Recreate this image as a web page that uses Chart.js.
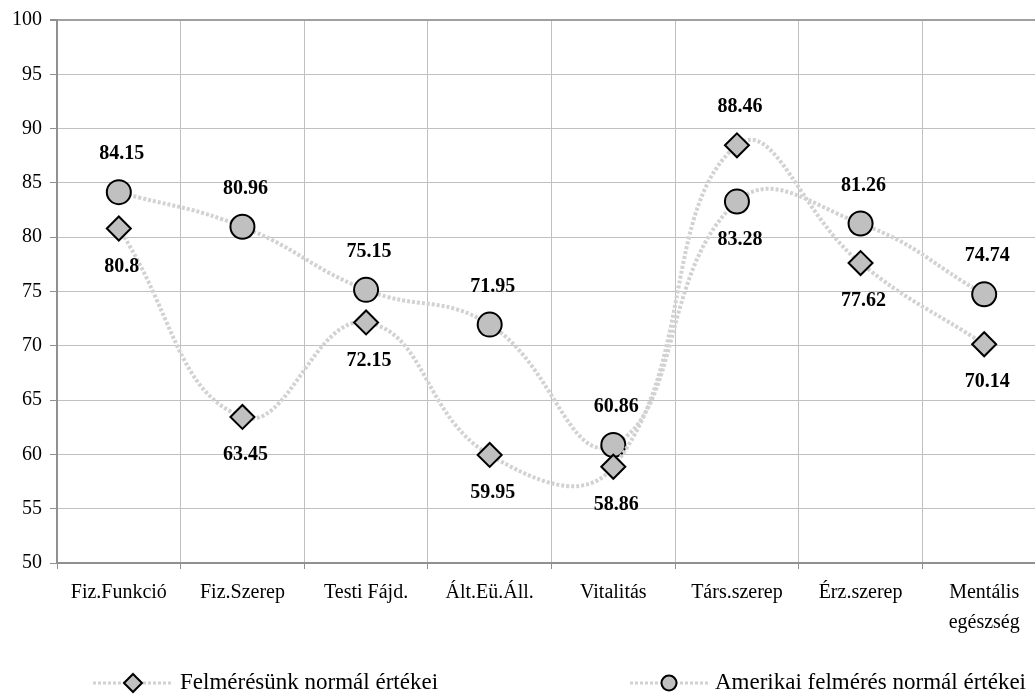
<!DOCTYPE html>
<html>
<head>
<meta charset="utf-8">
<script src="https://cdn.jsdelivr.net/npm/chart.js@4.4.0/dist/chart.umd.min.js"></script>
<style>
  html, body { margin: 0; padding: 0; background: #fff; overflow: hidden; }
  #wrap { width: 1060px; height: 699px; position: relative; }
</style>
</head>
<body>
<div id="wrap"><canvas id="myChart"></canvas></div>
<script>
// categories and values
const categories = ["Fiz.Funkció", "Fiz.Szerep", "Testi Fájd.", "Ált.Eü.Áll.", "Vitalitás", "Társ.szerep", "Érz.szerep", ["Mentális", "egészség"]];
const sajatValues = [80.8, 63.45, 72.15, 59.95, 58.86, 88.46, 77.62, 70.14];
const amerikaiValues = [84.15, 80.96, 75.15, 71.95, 60.86, 83.28, 81.26, 74.74];
const seriesNames = ["Felmérésünk normál értékei", "Amerikai felmérés normál értékei"];
const yMin = 50;
const yMax = 100;
const yStep = 5;

const serif = "'Liberation Serif', 'Times New Roman', serif";

// value labels: above the point if it is the higher of the two series
const valueLabels = {
  id: "valueLabels",
  afterDatasetsDraw(chart) {
    const ctx = chart.ctx;
    ctx.save();
    ctx.font = "bold 20px " + serif;
    ctx.fillStyle = "#000";
    ctx.textAlign = "center";
    ctx.textBaseline = "middle";
    chart.data.datasets.forEach((ds, i) => {
      const other = chart.data.datasets[1 - i].data;
      chart.getDatasetMeta(i).data.forEach((pt, j) => {
        const above = ds.data[j] > other[j];
        ctx.fillText(String(ds.data[j]), pt.x + 3, pt.y + (above ? -38 : 38));
      });
    });
    ctx.restore();
  },
};

// legend at the bottom, two items far apart
const bottomLegend = {
  id: "bottomLegend",
  afterDraw(chart) {
    const ctx = chart.ctx;
    const items = [
      { x0: 93, x1: 173, tx: 180, r: 9 },
      { x0: 630, x1: 708, tx: 715, r: 7.5 },
    ];
    const y = 683;
    chart.data.datasets.forEach((ds, i) => {
      const it = items[i];
      ctx.save();
      ctx.strokeStyle = ds.borderColor;
      ctx.lineWidth = 3;
      ctx.setLineDash(ds.borderDash);
      ctx.beginPath();
      ctx.moveTo(it.x0, y);
      ctx.lineTo(it.x1, y);
      ctx.stroke();
      ctx.setLineDash([]);
      ctx.fillStyle = ds.pointBackgroundColor;
      ctx.strokeStyle = ds.pointBorderColor;
      ctx.lineWidth = 2;
      Chart.helpers.drawPoint(ctx, { pointStyle: ds.pointStyle, rotation: 0, radius: it.r, borderWidth: 2 }, (it.x0 + it.x1) / 2, y);
      ctx.font = "23px " + serif;
      ctx.fillStyle = "#000";
      ctx.textAlign = "left";
      ctx.textBaseline = "middle";
      ctx.fillText(ds.label, it.tx, y);
      ctx.restore();
    });
  },
};

new Chart(document.getElementById("myChart"), {
  type: "line",
  data: {
    labels: categories,
    datasets: [
      {
        label: seriesNames[0],
        data: sajatValues,
        borderColor: "#d2d2d2",
        borderWidth: 4,
        borderDash: [3, 2],
        tension: 0.45,
        pointStyle: "rectRot",
        pointRadius: 12,
        pointBackgroundColor: "#c0c0c0",
        pointBorderColor: "#000",
        pointBorderWidth: 2,
        clip: false,
      },
      {
        label: seriesNames[1],
        data: amerikaiValues,
        borderColor: "#d2d2d2",
        borderWidth: 4,
        borderDash: [3, 2],
        tension: 0.45,
        pointStyle: "circle",
        pointRadius: 12,
        pointBackgroundColor: "#c0c0c0",
        pointBorderColor: "#000",
        pointBorderWidth: 2,
        clip: false,
      },
    ],
  },
  options: {
    animation: false,
    responsive: true,
    maintainAspectRatio: false,
    layout: { padding: { top: 20, right: 14, left: 0, bottom: 0 } },
    plugins: {
      legend: { display: false },
      tooltip: { enabled: false },
    },
    scales: {
      x: {
        offset: true,
        grid: { offset: true, color: "#c0c0c0", lineWidth: 1, tickLength: 6, tickColor: "#909090" },
        border: { color: "#909090", width: 2 },
        ticks: { color: "#000", padding: 9, maxRotation: 0, autoSkip: false, font: { family: serif, size: 20, lineHeight: 1.5 } },
        afterFit(scale) { scale.height = 136; },
      },
      y: {
        min: yMin,
        max: yMax,
        ticks: { stepSize: yStep, color: "#000", padding: 8, font: { family: serif, size: 20 } },
        grid: {
          color: (c) => (c.tick && c.tick.value === yMax ? "#a0a0a0" : "#c0c0c0"),
          lineWidth: (c) => (c.tick && c.tick.value === yMax ? 2 : 1),
          tickLength: 7,
          tickColor: "#909090",
        },
        border: { color: "#909090", width: 2 },
        afterFit(scale) { scale.width = 57; },
      },
    },
  },
  plugins: [valueLabels, bottomLegend],
});
</script>
</body>
</html>
